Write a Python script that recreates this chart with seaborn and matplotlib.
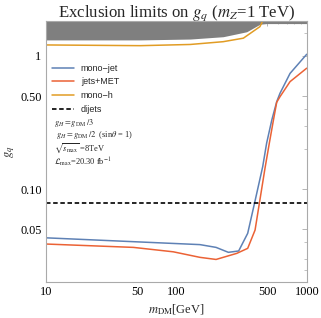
import matplotlib
matplotlib.use("Agg")
import matplotlib.pyplot as plt
import matplotlib.ticker as mticker
import seaborn as sns

# mono-jet limit (blue)
mdm_jet = [10, 47, 152, 202, 251, 301, 353, 402, 460, 493, 540, 589, 624, 745, 1000]
g_jet = [0.0433, 0.0405, 0.0385, 0.0367, 0.0337, 0.0345, 0.0468, 0.082, 0.148, 0.222, 0.331, 0.454, 0.525, 0.74, 1.03]

# jets+MET limit (red)
mdm_met = [10, 47, 95, 152, 202, 291, 353, 402, 479, 517, 556, 589, 624, 745, 1000]
g_met = [0.0389, 0.0367, 0.034, 0.0309, 0.0298, 0.0331, 0.0361, 0.0495, 0.144, 0.222, 0.331, 0.45, 0.495, 0.642, 0.81]

# mono-h limit (orange)
mdm_h = [10, 53, 128, 229, 327, 438, 480]
g_h = [1.21, 1.195, 1.22, 1.28, 1.36, 1.66, 2.0]

# dijets limit (dashed)
mdm_dij = [10, 1000]
g_dij = [0.0794, 0.0794]

# perturbativity bound (gray shaded region above)
mdm_pert = [10, 53, 128, 229, 347, 438, 493, 1000]
g_pert = [1.32, 1.32, 1.34, 1.395, 1.52, 1.73, 1.75, 1.75]

x_ticks = [10, 50, 100, 500, 1000]
y_ticks = [0.05, 0.10, 0.50, 1]
y_ticklabels = ["0.05", "0.10", "0.50", "1"]

sns.set_theme(style="white")
plt.rcParams["font.family"] = ["Liberation Serif", "DejaVu Serif"]
plt.rcParams["mathtext.fontset"] = "stix"

fig = plt.figure(figsize=(3.21, 3.18), dpi=100)
ax = fig.add_axes([0.1424, 0.1142, 0.8131, 0.8198])

ax.fill_between(mdm_pert, g_pert, [3] * len(g_pert), color="#7f7f7f", lw=0)
sns.lineplot(x=mdm_jet, y=g_jet, ax=ax, color="#5E81B5", lw=1.1, label="mono\u2212jet")
sns.lineplot(x=mdm_met, y=g_met, ax=ax, color="#EB6235", lw=1.1, label="jets+MET")
sns.lineplot(x=mdm_h, y=g_h, ax=ax, color="#E19C24", lw=1.1, label="mono\u2212h")
sns.lineplot(x=mdm_dij, y=g_dij, ax=ax, color="black", lw=1.2, linestyle=(0, (2.7, 1.6)), label="dijets")

ax.set_xscale("log")
ax.set_yscale("log")
ax.set_xlim(10, 1000)
ax.set_ylim(0.0203, 1.83)

ax.xaxis.set_major_locator(mticker.FixedLocator(x_ticks))
ax.xaxis.set_major_formatter(mticker.FixedFormatter([str(t) for t in x_ticks]))
ax.xaxis.set_minor_locator(mticker.FixedLocator([20, 30, 40, 60, 70, 80, 90, 200, 300, 400, 600, 700, 800, 900]))
ax.xaxis.set_minor_formatter(mticker.NullFormatter())
ax.yaxis.set_major_locator(mticker.FixedLocator(y_ticks))
ax.yaxis.set_major_formatter(mticker.FixedFormatter(y_ticklabels))
ax.yaxis.set_minor_locator(mticker.FixedLocator([0.025, 0.03, 0.04, 0.2, 0.3, 0.4, 1.5]))
ax.yaxis.set_minor_formatter(mticker.NullFormatter())

ax.tick_params(which="both", direction="in", top=True, right=True, color="#aaaaaa",
               labelsize=8.8, pad=3, labelcolor="black")
ax.tick_params(which="major", length=3.5, width=0.6)
ax.tick_params(which="minor", length=2, width=0.5)
for s in ax.spines.values():
    s.set_color("#aaaaaa")
    s.set_linewidth(0.8)

ax.set_title("Exclusion limits on $g_q$ ($m_Z$=1 TeV)", fontsize=12.1, pad=3)
ax.set_xlabel(r"$m_{\rm DM}$[GeV]", fontsize=9, labelpad=3)
ax.set_ylabel(r"$g_q$", fontsize=9, labelpad=2)

leg = ax.legend(loc="upper left", bbox_to_anchor=(0.01, 0.85), frameon=False,
                prop={"family": "Liberation Sans", "size": 6.5},
                handlelength=2.4, handletextpad=0.8, labelspacing=0.53, borderaxespad=0)

# model / run notes under the legend (one block of text)
notes = [r"$g_H = g_{\rm DM}\,/3$",
         r" $g_H = g_{\rm DM}\,/2$  (sin$\theta$ = 1)",
         r"$\sqrt{s_{\rm max}}$ =8TeV",
         r"$\mathcal{L}_{\rm max}$=20.30 fb$^{-1}$"]
ax.text(0.03, 0.632, "\n".join(notes), transform=ax.transAxes, fontsize=6,
        va="top", ha="left", linespacing=1.05)

fig.savefig("out.png", dpi=100)
